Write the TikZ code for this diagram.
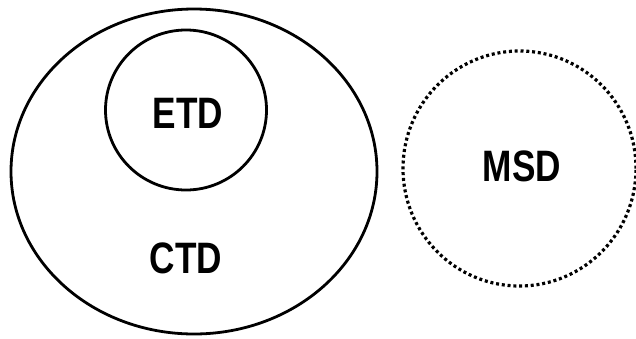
\documentclass[tikz,border=0pt]{standalone}
\usepackage{fontspec}
\setmainfont[FakeStretch=0.8]{Liberation Sans}
\usetikzlibrary{shapes.geometric}
\begin{document}
\begin{tikzpicture}[x=1pt,y=-1pt,
  ring/.style={draw=black,line width=2.8pt,ellipse,inner sep=0pt},
  dotring/.style={draw=black,line width=3.2pt,ellipse,inner sep=0pt,dash pattern=on 3pt off 2.8pt},
  lbl/.style={font=\fontsize{44}{44}\selectfont\bfseries,inner sep=0pt,anchor=center}]
\useasboundingbox (0,0) rectangle (636,338);
\node[ring,minimum width=366pt,minimum height=325pt] (ctd) at (194,171.5) {};
\node[ring,minimum width=161pt,minimum height=160pt] (etd) at (186,110) {};
\node[dotring,minimum width=233pt,minimum height=235pt] (msd) at (519.5,168.5) {};
\node[lbl] (etdl) at (188,113) {ETD};
\node[lbl] (ctdl) at (186,258.5) {CTD};
\node[lbl] (msdl) at (522,166.5) {MSD};
\end{tikzpicture}
\end{document}
